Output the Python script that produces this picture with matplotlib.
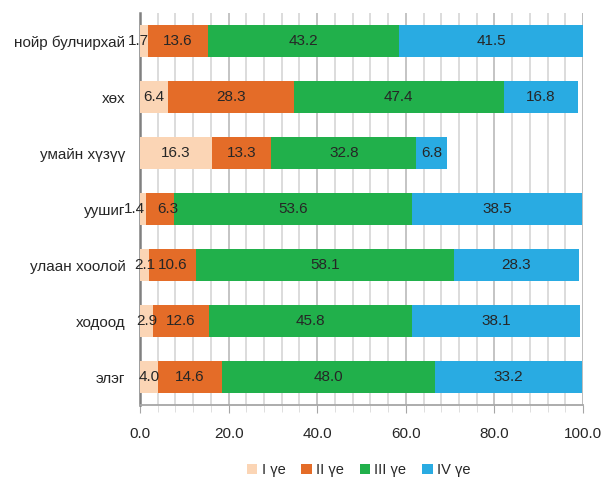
import numpy as np
import matplotlib.pyplot as plt
from matplotlib.ticker import MultipleLocator

plt.rcParams['font.family'] = ['Liberation Sans', 'DejaVu Sans']

# Data (top to bottom as shown)
categories = ['нойр булчирхай', 'хөх', 'умайн хүзүү', 'уушиг',
              'улаан хоолой', 'ходоод', 'элэг']
stage1 = [1.7, 6.4, 16.3, 1.4, 2.1, 2.9, 4.0]
stage2 = [13.6, 28.3, 13.3, 6.3, 10.6, 12.6, 14.6]
stage3 = [43.2, 47.4, 32.8, 53.6, 58.1, 45.8, 48.0]
stage4 = [41.5, 16.8, 6.8, 38.5, 28.3, 38.1, 33.2]
series_names = ['I үе', 'II үе', 'III үе', 'IV үе']
colors = ['#FBD5B5', '#E46C28', '#21B04B', '#29ABE2']

# small label nudges (points) where Excel moved overlapping labels
nudges = {(0, 0): -4.0, (3, 0): -6.0, (3, 1): 5.5}

fig = plt.figure(figsize=(6.05, 4.84), dpi=100)
ax = fig.add_axes([0.2314, 0.163, 0.7322, 0.81])

y = np.arange(len(categories))
left = np.zeros(len(categories))
for s, (vals, name, col) in enumerate(zip([stage1, stage2, stage3, stage4], series_names, colors)):
    bars = ax.barh(y, vals, left=left, height=0.57, color=col, label=name, zorder=3)
    texts = ax.bar_label(bars, labels=[f'{v:.1f}' for v in vals], label_type='center',
                         fontsize=11, color='#262626', zorder=4)
    for i, t in enumerate(texts):
        if (i, s) in nudges:
            t.xyann = (nudges[(i, s)], t.xyann[1])
    left += np.array(vals)

ax.set_xlim(0, 100)
ax.set_ylim(len(categories) - 0.5, -0.5)
ax.set_yticks(y)
ax.set_yticklabels(categories, fontsize=11, color='#262626')
ax.tick_params(axis='y', length=0, pad=10.5)

ax.xaxis.set_major_locator(MultipleLocator(20))
ax.xaxis.set_minor_locator(MultipleLocator(4))
ax.xaxis.set_major_formatter(plt.FuncFormatter(lambda v, p: f'{v:.1f}'))
ax.tick_params(axis='x', which='major', length=6, color='#A6A6A6', labelsize=11,
               labelcolor='#262626', pad=10)
ax.tick_params(axis='x', which='minor', length=5, color='#D9D9D9')
ax.grid(axis='x', which='major', color='#BFBFBF', linewidth=1.3, zorder=0)
ax.grid(axis='x', which='minor', color='#D9D9D9', linewidth=1.3, zorder=0)

for s in ['top', 'right']:
    ax.spines[s].set_visible(False)
ax.spines['left'].set_color('#808080')
ax.spines['left'].set_linewidth(1.8)
ax.spines['bottom'].set_color('#A6A6A6')
ax.spines['bottom'].set_linewidth(1.3)
ax.axvline(100, color='#A6A6A6', linewidth=1.3, zorder=1)

fig.legend(loc='center', bbox_to_anchor=(0.593, 0.028), ncol=4, frameon=False,
           fontsize=10.5, handlelength=0.7, handleheight=0.7, handletextpad=0.3,
           columnspacing=1.1, labelcolor='#262626')

fig.savefig('out.png', dpi=100)
